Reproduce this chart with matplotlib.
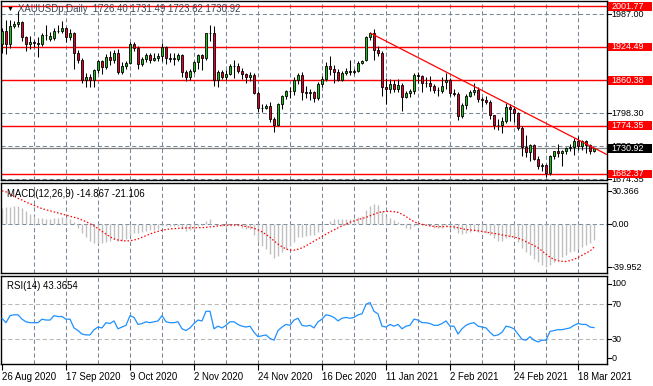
import matplotlib
matplotlib.use("Agg")
import matplotlib.pyplot as plt
from matplotlib.patches import Rectangle
import numpy as np

plt.rcParams['font.family'] = ['Liberation Sans', 'DejaVu Sans']

# ---------------- data ----------------
opens = [1929, 1954, 1930, 1965, 1968, 1971, 1944, 1930, 1934, 1931,
         1930, 1947, 1940, 1941, 1955, 1954, 1960, 1944, 1951, 1912,
         1900, 1862, 1867, 1861, 1881, 1897, 1886, 1905, 1900, 1913,
         1877, 1887, 1894, 1930, 1922, 1892, 1901, 1909, 1899, 1904,
         1907, 1924, 1904, 1902, 1902, 1908, 1877, 1867, 1879, 1895,
         1909, 1904, 1950, 1951, 1862, 1877, 1866, 1873, 1887, 1888,
         1879, 1872, 1866, 1871, 1837, 1807, 1808, 1811, 1786, 1775,
         1815, 1830, 1841, 1840, 1862, 1871, 1839, 1837, 1839, 1826,
         1854, 1864, 1887, 1883, 1876, 1862, 1874, 1879, 1876, 1879,
         1894, 1900, 1943, 1950, 1918, 1913, 1848, 1844, 1854, 1845,
         1851, 1828, 1837, 1840, 1871, 1869, 1856, 1855, 1850, 1843,
         1840, 1858, 1862, 1837, 1835, 1793, 1814, 1831, 1838, 1843,
         1825, 1824, 1819, 1794, 1775, 1776, 1783, 1810, 1806, 1798,
         1769, 1733, 1724, 1738, 1711, 1698, 1700, 1683, 1716, 1726,
         1722, 1726, 1731, 1733, 1745, 1736, 1745, 1737, 1726.40]
highs = [1960, 1976, 1976, 1974, 1992, 1973, 1945, 1945, 1937, 1943,
         1950, 1966, 1952, 1960, 1967, 1973, 1962, 1959, 1953, 1919,
         1903, 1875, 1873, 1883, 1900, 1900, 1911, 1917, 1918, 1921,
         1895, 1898, 1933, 1933, 1926, 1906, 1913, 1913, 1912, 1913,
         1932, 1926, 1912, 1912, 1912, 1911, 1880, 1883, 1897, 1911,
         1911, 1951, 1966, 1965, 1880, 1881, 1881, 1892, 1900, 1894,
         1884, 1874, 1876, 1875, 1840, 1815, 1816, 1819, 1791, 1817,
         1832, 1843, 1848, 1866, 1875, 1876, 1850, 1844, 1841, 1857,
         1868, 1896, 1907, 1890, 1883, 1878, 1884, 1900, 1883, 1897,
         1900, 1945, 1952, 1959, 1926, 1916, 1865, 1863, 1862, 1863,
         1856, 1841, 1845, 1875, 1876, 1870, 1867, 1868, 1853, 1848,
         1866, 1875, 1865, 1845, 1838, 1818, 1835, 1843, 1855, 1847,
         1829, 1830, 1823, 1795, 1787, 1790, 1817, 1815, 1812, 1800,
         1774, 1757, 1740, 1740, 1717, 1703, 1702, 1718, 1726, 1739,
         1727, 1734, 1740, 1750, 1755, 1746, 1747, 1740, 1731.49]
lows = [1912, 1911, 1922, 1960, 1962, 1936, 1916, 1920, 1924, 1906,
        1926, 1937, 1936, 1937, 1950, 1950, 1933, 1938, 1882, 1894,
        1855, 1848, 1848, 1848, 1875, 1873, 1883, 1889, 1894, 1873,
        1873, 1882, 1891, 1916, 1883, 1888, 1895, 1894, 1897, 1898,
        1897, 1891, 1895, 1890, 1897, 1867, 1859, 1861, 1875, 1883,
        1880, 1900, 1935, 1850, 1848, 1863, 1861, 1870, 1865, 1874,
        1864, 1855, 1859, 1834, 1800, 1800, 1805, 1781, 1763, 1773,
        1806, 1825, 1827, 1833, 1853, 1823, 1826, 1824, 1820, 1823,
        1847, 1860, 1871, 1855, 1859, 1860, 1870, 1871, 1872, 1876,
        1891, 1897, 1937, 1900, 1907, 1830, 1816, 1837, 1838, 1838,
        1803, 1826, 1828, 1835, 1856, 1838, 1848, 1840, 1836, 1831,
        1836, 1845, 1831, 1830, 1785, 1788, 1805, 1828, 1833, 1820,
        1809, 1816, 1786, 1767, 1765, 1761, 1780, 1784, 1782, 1765,
        1717, 1715, 1706, 1708, 1692, 1688, 1676, 1681, 1711, 1714,
        1698, 1720, 1725, 1719, 1727, 1727, 1722, 1720, 1723.62]
closes = [1954, 1930, 1965, 1968, 1971, 1944, 1930, 1934, 1931, 1930,
          1947, 1947, 1945, 1955, 1954, 1960, 1944, 1951, 1912, 1900,
          1862, 1867, 1862, 1881, 1897, 1886, 1905, 1900, 1913, 1877,
          1887, 1894, 1930, 1922, 1892, 1901, 1909, 1899, 1904, 1907,
          1924, 1904, 1902, 1902, 1908, 1877, 1867, 1879, 1895, 1909,
          1904, 1950, 1951, 1862, 1877, 1866, 1873, 1887, 1888, 1879,
          1872, 1866, 1871, 1837, 1807, 1808, 1811, 1786, 1775, 1815,
          1830, 1841, 1840, 1862, 1871, 1839, 1837, 1839, 1826, 1854,
          1864, 1887, 1883, 1876, 1862, 1874, 1879, 1876, 1879, 1894,
          1897, 1943, 1950, 1918, 1913, 1848, 1844, 1854, 1845, 1851,
          1828, 1837, 1840, 1871, 1869, 1856, 1855, 1850, 1843, 1842,
          1849, 1862, 1837, 1835, 1793, 1814, 1831, 1838, 1843, 1825,
          1824, 1819, 1794, 1775, 1776, 1783, 1810, 1806, 1798, 1769,
          1733, 1724, 1738, 1711, 1698, 1700, 1683, 1716, 1726, 1722,
          1726, 1731, 1733, 1745, 1736, 1744, 1737, 1726, 1730.92]

macd_main = [15, 16, 16, 17, 17, 15, 12, 10, 8, 6,
             6, 5, 5, 6, 6, 7, 6, 5, 2, -3,
             -8, -12, -15, -17, -17, -17, -16, -15, -14, -15,
             -15, -14, -10, -8, -8, -7, -6, -5, -5, -4,
             -2, -2, -2, -2, -2, -4, -6, -5, -4, -2,
             -1, 3, 5, 0, -1, -2, -3, -2, -2, -2,
             -3, -4, -4, -10, -16, -20, -23, -27, -31, -29,
             -26, -23, -20, -16, -12, -12, -11, -10, -10, -7,
             -4, 0, 3, 5, 5, 5, 5, 5, 5, 7,
             8, 13, 17, 19, 18, 12, 8, 6, 4, 2,
             -1, -3, -4, -2, -1, -1, -1, -2, -3, -3,
             -3, -2, -3, -4, -8, -9, -8, -7, -6, -7,
             -7, -8, -10, -13, -15, -15, -13, -12, -12, -16,
             -22, -26, -28, -32, -35, -37.6, -39.8, -37.6, -34.6, -33,
             -30.5, -28.4, -25.3, -24.4, -23.1, -20.7, -19.2, -17.6, -14.867]
macd_signal = [31, 30, 28, 26, 24, 22.5, 20.5, 19, 17.5, 16,
               14.5, 13.5, 12.5, 11.5, 10.5, 9.5, 8.5, 7.5, 6.5, 5.5,
               4, 2.5, 0.5, -1.5, -4, -6.5, -9, -11.5, -13.5, -14.5,
               -15, -15.4, -15.2, -14.5, -13.5, -12, -10.5, -9, -7.5, -6.5,
               -5.5, -4.8, -4.3, -4, -3.7, -3.5, -3.3, -3.2, -3.2, -3.2,
               -3.1, -2.8, -2.4, -2.0, -1.5, -1.0, -0.8, -0.6, -0.5, -0.6,
               -1.1, -2.1, -2.6, -3.6, -5.1, -7.0, -9.3, -12.1, -15.3, -18.2,
               -20.7, -22.8, -23.9, -23.9, -23.0, -21.8, -20.0, -17.7, -15.6, -13.4,
               -11.3, -9.1, -7.0, -5.1, -3.2, -1.4, 0.2, 1.9, 3.2, 4.4,
               5.3, 6.4, 7.8, 9.3, 10.8, 11.6, 11.9, 12.0, 11.7, 11.0,
               9.4, 7.2, 4.7, 2.4, 1.0, 0.0, -0.8, -1.4, -2.0, -2.2,
               -2.2, -2.0, -2.1, -2.4, -3.2, -4.1, -4.8, -5.2, -5.6, -6.0,
               -6.6, -7.1, -7.8, -8.3, -9.0, -9.8, -10.4, -11.1, -11.7, -12.7,
               -14.2, -16.0, -17.7, -19.6, -21.8, -24.5, -27.6, -30.4, -32.5, -33.7,
               -34.2, -34.3, -33.5, -32.4, -30.7, -28.6, -26.6, -24.7, -21.106]
rsi_values = [54, 49, 57, 58, 58, 53, 50, 49, 49, 49,
              53, 52, 52, 57, 56, 56, 53, 53, 43, 40,
              36, 35, 35, 41, 44, 43, 49, 48, 51, 42,
              44, 46, 57, 55, 47, 48, 50, 49, 50, 51,
              57, 50, 49, 49, 50, 42, 40, 43, 48, 52,
              51, 62, 62, 42, 45, 43, 46, 50, 50, 47,
              45, 44, 45, 38, 33, 34, 35, 31, 29, 40,
              44, 47, 46, 52, 54, 46, 45, 46, 43, 50,
              53, 58, 57, 55, 51, 54, 55, 54, 55, 58,
              59, 70, 72, 62, 59, 45, 44, 47, 45, 47,
              42, 45, 46, 53, 52, 49, 49, 48, 46, 46,
              48, 51, 45, 45, 36, 42, 46, 48, 49, 45,
              44, 43, 38, 34, 35, 38, 45, 44, 42, 36,
              30, 29, 33, 29, 27, 29, 29, 39, 40, 41,
              41, 42, 43, 46, 48, 47, 47, 44, 43.3654]

tick_labels = ["26 Aug 2020", "17 Sep 2020", "9 Oct 2020", "2 Nov 2020",
               "24 Nov 2020", "16 Dec 2020", "11 Jan 2021", "2 Feb 2021",
               "24 Feb 2021", "18 Mar 2021"]
tick_bars = [0, 16, 32, 48, 64, 80, 96, 112, 128, 144]

red_levels = [2001.77, 1924.49, 1860.38, 1774.35, 1682.37]
grid_levels = [1987.00, 1924.10, 1861.20, 1798.30, 1735.40, 1672.50]
grid_labels = ["1987.00", "1924.10", "1861.20", "1798.30", "1736.42", "1674.35"]
last_price = 1730.92
trend_x = [92.25, 151.5]
trend_y = [1950.0, 1718.0]

macd_labels = [30.366, 0.00, -39.952]
rsi_levels = [70, 30]

# ---------------- layout ----------------
W, H = 653, 386
fig = plt.figure(figsize=(W / 100, H / 100), dpi=100)
fig.patch.set_facecolor('white')


def rect(x0, y0, x1, y1):
    return [x0 / W, 1 - y1 / H, (x1 - x0) / W, (y1 - y0) / H]


FS = 6.5
GRID = '#778899'
DASH = (0, (4, 2.6))
n = len(closes)
x = np.arange(n)
XLIM = (-0.25, 151.25)
vgrid = np.arange(8, 152, 8)

ax = fig.add_axes(rect(1, 1, 607, 180))
axl = fig.add_axes(rect(607, 1, 653, 182))
ax2 = fig.add_axes(rect(1, 183, 607, 273))
ax2l = fig.add_axes(rect(607, 183, 653, 275))
ax3 = fig.add_axes(rect(1, 276, 607, 364))
ax3l = fig.add_axes(rect(607, 276, 653, 366))

MAIN_YLIM = (1670.6, 2011.8)
MAINL_YLIM = (1666.8, 2011.8)
MACD_YLIM = (-45.0, 38.2)
MACDL_YLIM = (-46.9, 38.2)
RSI_YLIM = (1.8, 102.3)
RSIL_YLIM = (-0.5, 102.3)

for a in (ax, ax2, ax3):
    a.set_xlim(*XLIM)
    for s in a.spines.values():
        s.set_color('black')
        s.set_linewidth(1.0)
    a.tick_params(left=False, right=False, labelleft=False, bottom=False,
                  labelbottom=False)
    for v in vgrid:
        a.axvline(v, color=GRID, lw=0.75, ls=DASH, zorder=0.5)

for a, yl in ((axl, MAINL_YLIM), (ax2l, MACDL_YLIM), (ax3l, RSIL_YLIM)):
    a.set_xlim(0, 46)
    a.set_ylim(*yl)
    a.axis('off')

# ---------------- main panel ----------------
ax.set_ylim(*MAIN_YLIM)
for g in grid_levels:
    ax.axhline(g, color=GRID, lw=0.75, ls=DASH, zorder=0.5)
ax.axhline(last_price, color='#7f7f7f', lw=0.9, zorder=0.6)
for lv in red_levels:
    ax.axhline(lv, color='#ff0000', lw=1.0, zorder=1)

o = np.array(opens, float)
c = np.array(closes, float)
hi = np.array(highs, float)
lo = np.array(lows, float)
up = c >= o
ax.vlines(x, lo, hi, color='black', lw=0.75, zorder=2)
bottoms = np.minimum(o, c)
heights = np.maximum(np.abs(c - o), 0.6)
cols = np.where(up, '#19c219', '#e4002b')
ax.bar(x, heights, bottom=bottoms, width=0.64, color=cols, edgecolor='black',
       linewidth=0.6, zorder=3)

# trend line (ray)
ax.plot(trend_x, trend_y, color='#ff0000', lw=0.9, zorder=4)

# title
ax.text(6 / 606, 1 - 8 / 179, "\u25BC", transform=ax.transAxes, fontsize=5,
        va='center', ha='left', color='black', zorder=6)
ax.text(17 / 606, 1 - 8.5 / 179, "XAUUSDp,Daily  1726.40 1731.49 1723.62 1730.92",
        transform=ax.transAxes, fontsize=FS + 0.4, va='center', ha='left',
        color='#3c4654', zorder=6)

# price labels
box_h = 8.6 * (MAIN_YLIM[1] - MAIN_YLIM[0]) / 179
for g, t in zip(grid_levels, grid_labels):
    axl.plot([0, 3.5], [g, g], color='black', lw=0.8, zorder=1)
    axl.text(4.5, g, t, fontsize=FS, va='center', ha='left', color='black',
             clip_on=True, zorder=1)
for lv in red_levels:
    axl.add_patch(Rectangle((0.8, lv - box_h / 2), 44.5, box_h, facecolor='#ff0000',
                            edgecolor='none', zorder=3))
    axl.text(4.5, lv, f"{lv:.2f}", fontsize=FS, va='center', ha='left',
             color='white', zorder=4)
axl.add_patch(Rectangle((0.8, last_price - box_h / 2), 44.5, box_h,
                        facecolor='black', edgecolor='none', zorder=3))
axl.text(4.5, last_price, f"{last_price:.2f}", fontsize=FS, va='center',
         ha='left', color='white', zorder=4)

# ---------------- MACD panel ----------------
ax2.set_ylim(*MACD_YLIM)
ax2.axhline(0, color=GRID, lw=0.75, ls=DASH, zorder=0.5)
ax2.vlines(x, 0, macd_main, color='#c0c0c0', lw=1.0, zorder=2)
ax2.plot(x, macd_signal, color='#ff0000', lw=0.9, ls=(0, (1.2, 1.6)), zorder=3)
ax2.text(6 / 606, 1 - 11 / 90, "MACD(12,26,9) -14.867 -21.106",
         transform=ax2.transAxes, fontsize=FS + 0.4, va='center', ha='left',
         color='black')
for v in macd_labels:
    ax2l.plot([0, 3.5], [v, v], color='black', lw=0.8)
    ax2l.text(4.5, v, f"{v:.3f}" if v != 0 else "0.00", fontsize=FS,
              va='center', ha='left', color='black')

# ---------------- RSI panel ----------------
ax3.set_ylim(*RSI_YLIM)
for lv in rsi_levels:
    ax3.axhline(lv, color='#b8b8b8', lw=0.75, ls=DASH, zorder=0.5)
ax3.plot(x, rsi_values, color='#1e90ff', lw=0.9, zorder=3)
ax3.text(6 / 606, 1 - 10 / 88, "RSI(14) 43.3654", transform=ax3.transAxes,
         fontsize=FS + 0.4, va='center', ha='left', color='black')
for v, t in ((93.2, "100"), (70, "70"), (30, "30"), (8.3, "0")):
    ax3l.plot([0, 3.5], [v, v], color='black', lw=0.8)
    ax3l.text(4.5, v, t, fontsize=FS, va='center', ha='left', color='black')

ax3.set_xticks(tick_bars)
ax3.set_xticklabels(tick_labels)
ax3.tick_params(bottom=True, labelbottom=True, direction='out', length=4,
                width=0.8, color='black', labelsize=FS + 0.4, pad=2)
for lab in ax3.get_xticklabels():
    lab.set_horizontalalignment('left')

fig.savefig("out.png", dpi=100, facecolor='white')
